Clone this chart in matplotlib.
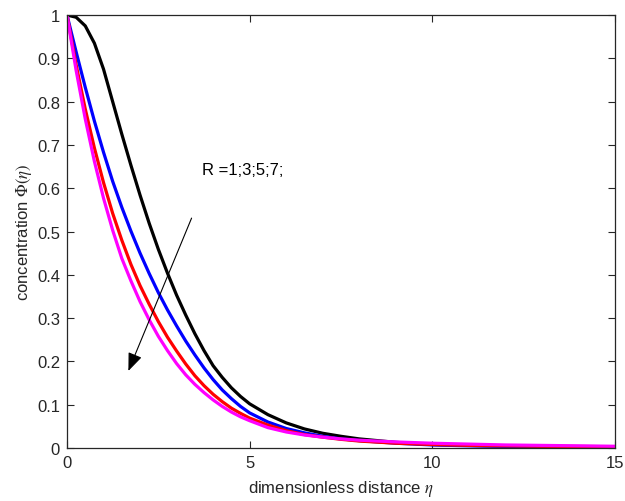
import matplotlib
matplotlib.use("Agg")
import matplotlib.pyplot as plt

# eta grid shared by all curves
eta = [0, 0.25, 0.5, 0.75, 1, 1.25, 1.5, 1.75, 2, 2.25, 2.5, 2.75, 3, 3.25, 3.5,
       3.75, 4, 4.25, 4.5, 4.75, 5, 5.5, 6, 6.5, 7, 7.5, 8, 9, 10, 11, 12, 13, 15]

# concentration profiles (R = 1, 3, 5, 7)
phi_r1 = [1.0, 0.995, 0.975, 0.935, 0.875, 0.80, 0.725, 0.653, 0.584, 0.519, 0.459,
          0.404, 0.353, 0.307, 0.264, 0.225, 0.19, 0.163, 0.139, 0.119, 0.102,
          0.077, 0.058, 0.044, 0.034, 0.027, 0.021, 0.013, 0.008, 0.006, 0.004,
          0.003, 0.002]
phi_r3 = [1.0, 0.915, 0.833, 0.755, 0.683, 0.616, 0.556, 0.501, 0.45, 0.403, 0.359,
          0.319, 0.282, 0.247, 0.215, 0.185, 0.158, 0.134, 0.114, 0.096, 0.081,
          0.06, 0.045, 0.035, 0.027, 0.021, 0.017, 0.011, 0.007, 0.005, 0.004,
          0.003, 0.002]
phi_r5 = [1.0, 0.885, 0.783, 0.693, 0.613, 0.542, 0.48, 0.424, 0.375, 0.332, 0.292,
          0.256, 0.224, 0.194, 0.167, 0.144, 0.124, 0.107, 0.092, 0.08, 0.069,
          0.053, 0.04, 0.031, 0.025, 0.02, 0.016, 0.011, 0.008, 0.006, 0.005,
          0.004, 0.003]
phi_r7 = [1.0, 0.872, 0.76, 0.662, 0.577, 0.503, 0.438, 0.386, 0.338, 0.296, 0.258,
          0.225, 0.195, 0.169, 0.147, 0.128, 0.111, 0.096, 0.083, 0.072, 0.063,
          0.047, 0.037, 0.03, 0.025, 0.021, 0.018, 0.014, 0.011, 0.009, 0.007,
          0.006, 0.004]

series = [phi_r1, phi_r3, phi_r5, phi_r7]
colors = ["black", "blue", "red", "magenta"]

xticks = [0, 5, 10, 15]
yticks = [0, 0.1, 0.2, 0.3, 0.4, 0.5, 0.6, 0.7, 0.8, 0.9, 1]
yticklabels = ["0", "0.1", "0.2", "0.3", "0.4", "0.5", "0.6", "0.7", "0.8", "0.9", "1"]

plt.rcParams["font.family"] = ["Liberation Sans", "DejaVu Sans"]
plt.rcParams["mathtext.fontset"] = "stix"

fig = plt.figure(figsize=(6.25, 5.02), dpi=100)
ax = fig.add_axes([0.1072, 0.1056, 0.8768, 0.8624])

for y, c in zip(series, colors):
    ax.plot(eta, y, color=c, lw=2.3, solid_capstyle="round", solid_joinstyle="round")

ax.set_xlim(0, 15)
ax.set_ylim(0, 1)
ax.set_xticks(xticks)
ax.set_yticks(yticks)
ax.set_yticklabels(yticklabels)
ax.tick_params(direction="in", length=5, width=0.8, top=True, right=True,
               labelsize=12, colors="#262626", pad=5)
for s in ax.spines.values():
    s.set_linewidth(0.9)
    s.set_color("#262626")

ax.set_xlabel(r"dimensionless distance $\eta$", fontsize=12, color="#262626", labelpad=6)
ax.set_ylabel(r"concentration $\Phi(\eta)$", fontsize=12, color="#262626", labelpad=2)

ax.text(3.70, 0.644, "R =1;3;5;7;", fontsize=12, va="center", ha="left")
ax.annotate("", xy=(1.68, 0.178), xytext=(3.41, 0.531),
            arrowprops=dict(arrowstyle="-|>,head_length=0.5,head_width=0.2",
                            lw=0.8, color="k", mutation_scale=22,
                            shrinkA=0, shrinkB=0))

fig.savefig("out.png", dpi=100)
